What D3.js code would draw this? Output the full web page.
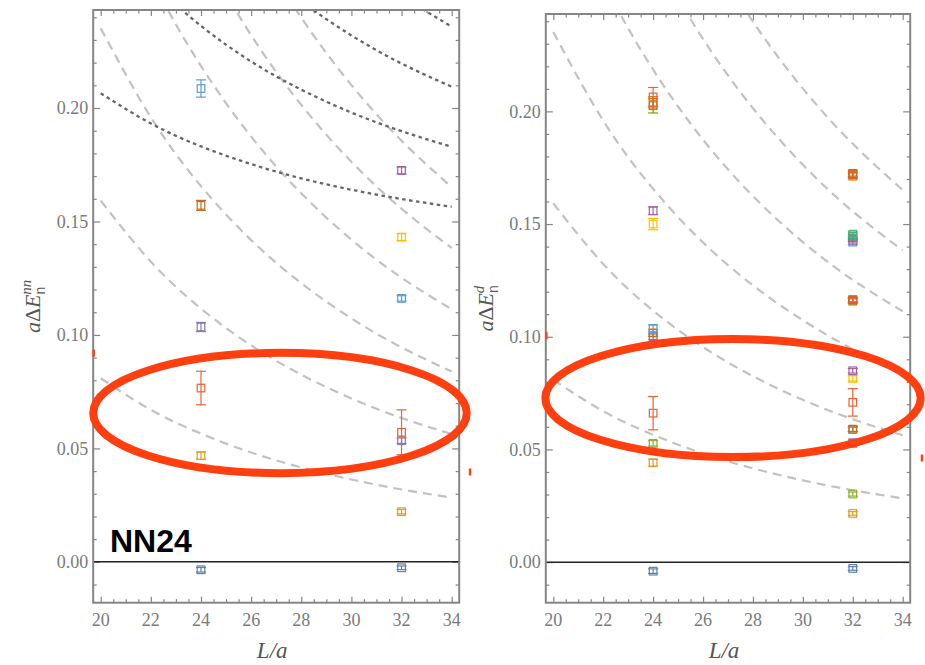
<!DOCTYPE html>
<html>
<head>
<meta charset="utf-8">
<script src="https://cdn.jsdelivr.net/npm/d3@7"></script>
<style>
body { margin: 0; background: #fff; }
svg { display: block; }
</style>
</head>
<body>
<svg id="chart" width="925" height="665"></svg>
<script>
// sample points (L/a) used for the reference curves
const curveL = [20, 22, 24, 26, 28, 30, 32, 34];

// non-interacting levels (dashed)
const freeLevel1 = [0.0809, 0.0670, 0.0565, 0.0482, 0.0416, 0.0363, 0.0319, 0.0283];
const freeLevel2 = [0.1592, 0.1323, 0.1116, 0.0954, 0.0825, 0.0720, 0.0634, 0.0563];
const freeLevel3 = [0.2352, 0.1959, 0.1656, 0.1418, 0.1228, 0.1073, 0.0945, 0.0839];
const freeLevel4 = [0.3091, 0.2580, 0.2185, 0.1874, 0.1624, 0.1420, 0.1252, 0.1113];
const freeLevel5 = [0.3810, 0.3187, 0.2704, 0.2321, 0.2014, 0.1763, 0.1556, 0.1383];
const freeLevel6 = [0.4511, 0.3781, 0.3212, 0.2761, 0.2398, 0.2101, 0.1856, 0.1651];

// dotted levels, only in the nn panel
const dottedLevel1 = [0.2065, 0.1932, 0.1831, 0.1753, 0.1690, 0.1640, 0.1599, 0.1565];
const dottedLevel2 = [0.2830, 0.2564, 0.2362, 0.2205, 0.2081, 0.1980, 0.1898, 0.1829];
const dottedLevel3 = [0.3595, 0.3197, 0.2894, 0.2658, 0.2471, 0.2320, 0.2196, 0.2094];
const dottedLevel4 = [0.4360, 0.3829, 0.3425, 0.3111, 0.2861, 0.2660, 0.2495, 0.2359];

const freeLevels = [freeLevel1, freeLevel2, freeLevel3, freeLevel4, freeLevel5, freeLevel6];
const dottedLevels = [dottedLevel1, dottedLevel2, dottedLevel3, dottedLevel4];

// nn panel points
const nnL     = [24, 24, 24, 24, 24, 24, 32, 32, 32, 32, 32, 32, 32];
const nnE     = [-0.0035, 0.0468, 0.0766, 0.1035, 0.1571, 0.2086, -0.0026, 0.0221, 0.0534, 0.0571, 0.1161, 0.1431, 0.1725];
const nnErr   = [0.0010, 0.0016, 0.0074, 0.0020, 0.0022, 0.0038, 0.0008, 0.0010, 0.0012, 0.0099, 0.0012, 0.0015, 0.0015];
const nnColor = ["#5E81B5", "#E19C24", "#EB6235", "#8778B3", "#C56E1A", "#5D9EC7",
                 "#5E81B5", "#E19C24", "#8778B3", "#EB6235", "#5D9EC7", "#FFBF00", "#A5609D"];

// d panel points
const dL     = [24, 24, 24, 24, 24, 24, 24, 24, 24, 24, 24, 24,
                32, 32, 32, 32, 32, 32, 32, 32, 32, 32, 32, 32, 32, 32, 32, 32, 32, 32, 32, 32];
const dE     = [-0.0040, 0.0441, 0.0527, 0.0661, 0.1000, 0.1017, 0.1037, 0.1500, 0.1559, 0.2025, 0.2040, 0.2064,
                -0.0028, 0.0216, 0.0302, 0.0527, 0.0530, 0.0589, 0.0590, 0.0709, 0.0815, 0.0849,
                0.1158, 0.1162, 0.1165, 0.1420, 0.1433, 0.1445, 0.1455, 0.1712, 0.1718, 0.1725];
const dErr   = [0.0010, 0.0015, 0.0012, 0.0074, 0.0012, 0.0015, 0.0015, 0.0025, 0.0017, 0.0032, 0.0025, 0.0042,
                0.0008, 0.0008, 0.0009, 0.0008, 0.0008, 0.0010, 0.0010, 0.0061, 0.0012, 0.0010,
                0.0010, 0.0010, 0.0010, 0.0010, 0.0010, 0.0010, 0.0010, 0.0012, 0.0012, 0.0012];
const dColor = ["#5E81B5", "#E19C24", "#8FB032", "#EB6235", "#8778B3", "#C56E1A", "#5D9EC7", "#FFBF00", "#A5609D", "#929600", "#C56E1A", "#EB6235",
                "#5E81B5", "#E19C24", "#8FB032", "#6685D9", "#8778B3", "#5D9EC7", "#C56E1A", "#EB6235", "#FFBF00", "#A5609D",
                "#929600", "#C56E1A", "#E95536", "#6685D9", "#E95536", "#5E81B5", "#47B66D", "#F89F13", "#E95536", "#C56E1A"];

// axes
const xMajor = [20, 22, 24, 26, 28, 30, 32, 34];
const yMajor = [0.00, 0.05, 0.10, 0.15, 0.20];

const svg = d3.select("#chart");
const serif = "'Liberation Serif', 'Times New Roman', serif";
const frameColor = "#858585";
const labelColor = "#7a7a7a";
const red = "#ff3f0f";

//draws one panel: frame, ticks, curves, points and annotations
const drawPanel = p => {

    const x = d3.scaleLinear().domain([19.7, 34.3]).range([p.left, p.right]);
    const y = d3.scaleLinear().domain([-0.018, 0.2432]).range([p.bottom, p.top]);

    const g = svg.append("g");

    const xMinor = d3.range(19.5, 34.51, 0.5).filter(v => v >= 19.7 && v <= 34.3 && !xMajor.includes(v));
    const yMinor = d3.range(-0.01, 0.2401, 0.01).map(v => +v.toFixed(2)).filter(v => !yMajor.includes(v));

    const clipId = "clip-" + p.id;
    svg.append("clipPath").attr("id", clipId)
        .append("rect")
        .attr("x", p.left).attr("y", p.top)
        .attr("width", p.right - p.left).attr("height", p.bottom - p.top);

    // ticks (all inward, mirrored on every side)
    const tickGroup = (axis, transform) => g.append("g")
        .attr("transform", transform)
        .call(axis)
        .call(a => a.select(".domain").remove())
        .call(a => a.selectAll("line").attr("stroke", frameColor).attr("stroke-width", 1.2))
        .call(a => a.selectAll("text").remove());

    tickGroup(d3.axisBottom(x).tickValues(xMajor).tickSize(-6), `translate(0,${p.bottom})`);
    tickGroup(d3.axisBottom(x).tickValues(xMinor).tickSize(-3.5), `translate(0,${p.bottom})`);
    tickGroup(d3.axisTop(x).tickValues(xMajor).tickSize(-6), `translate(0,${p.top})`);
    tickGroup(d3.axisTop(x).tickValues(xMinor).tickSize(-3.5), `translate(0,${p.top})`);
    tickGroup(d3.axisLeft(y).tickValues(yMajor).tickSize(-7), `translate(${p.left},0)`);
    tickGroup(d3.axisLeft(y).tickValues(yMinor).tickSize(-3.5), `translate(${p.left},0)`);
    tickGroup(d3.axisRight(y).tickValues(yMajor).tickSize(-7), `translate(${p.right},0)`);
    tickGroup(d3.axisRight(y).tickValues(yMinor).tickSize(-3.5), `translate(${p.right},0)`);

    // tick labels
    g.append("g")
        .selectAll("text")
        .data(xMajor)
        .join("text")
        .attr("x", d => x(d))
        .attr("y", p.bottom + 23)
        .attr("text-anchor", "middle")
        .attr("font-family", serif)
        .attr("font-size", 18)
        .attr("fill", labelColor)
        .text(d => d);

    g.append("g")
        .selectAll("text")
        .data(yMajor)
        .join("text")
        .attr("x", p.left - 5)
        .attr("y", d => y(d))
        .attr("dy", "0.35em")
        .attr("text-anchor", "end")
        .attr("font-family", serif)
        .attr("font-size", 18)
        .attr("fill", labelColor)
        .text(d => d3.format(".2f")(d));

    // reference curves
    const line = d3.line()
        .x((d, i) => x(curveL[i]))
        .y(d => y(d))
        .curve(d3.curveNatural);

    const curves = g.append("g").attr("clip-path", `url(#${clipId})`);

    curves.selectAll("path.free")
        .data(freeLevels)
        .join("path")
        .attr("class", "free")
        .attr("d", line)
        .attr("fill", "none")
        .attr("stroke", "#c2c2c2")
        .attr("stroke-width", 2.2)
        .attr("stroke-dasharray", "9,6");

    if (p.dotted) {
        curves.selectAll("path.dotted")
            .data(dottedLevels)
            .join("path")
            .attr("class", "dotted")
            .attr("d", line)
            .attr("fill", "none")
            .attr("stroke", "#666")
            .attr("stroke-width", 2.3)
            .attr("stroke-dasharray", "3.5,3.5");
    }

    // zero line
    g.append("line")
        .attr("x1", p.left).attr("x2", p.right)
        .attr("y1", y(0)).attr("y2", y(0))
        .attr("stroke", "#222")
        .attr("stroke-width", 1.5);

    // frame
    g.append("rect")
        .attr("x", p.left).attr("y", p.top)
        .attr("width", p.right - p.left).attr("height", p.bottom - p.top)
        .attr("fill", "none")
        .attr("stroke", frameColor)
        .attr("stroke-width", 2);

    // points with error bars
    const points = p.L.map((L, i) => ({L: L, E: p.E[i], err: p.err[i], color: p.color[i]}));

    const pt = g.append("g")
        .selectAll("g")
        .data(points)
        .join("g")
        .attr("stroke", d => d.color)
        .attr("stroke-width", 1.2)
        .attr("fill", "none");

    pt.append("line")
        .attr("x1", d => x(d.L)).attr("x2", d => x(d.L))
        .attr("y1", d => y(d.E - d.err)).attr("y2", d => y(d.E + d.err));

    pt.append("line")
        .attr("x1", d => x(d.L) - 5).attr("x2", d => x(d.L) + 5)
        .attr("y1", d => y(d.E - d.err)).attr("y2", d => y(d.E - d.err));

    pt.append("line")
        .attr("x1", d => x(d.L) - 5).attr("x2", d => x(d.L) + 5)
        .attr("y1", d => y(d.E + d.err)).attr("y2", d => y(d.E + d.err));

    pt.append("rect")
        .attr("x", d => x(d.L) - 3.8).attr("y", d => y(d.E) - 3.8)
        .attr("width", 7.6).attr("height", 7.6);

    // axis titles
    g.append("text")
        .attr("x", (p.left + p.right) / 2 - 4)
        .attr("y", 658)
        .attr("text-anchor", "middle")
        .attr("font-family", serif)
        .attr("font-size", 23)
        .attr("font-style", "italic")
        .attr("fill", "#555")
        .text("L/a");

    const yt = g.append("text")
        .attr("transform", `translate(${p.left - 53},${(p.top + p.bottom) / 2}) rotate(-90)`)
        .attr("text-anchor", "middle")
        .attr("font-family", serif)
        .attr("font-size", 22)
        .attr("fill", "#555");
    yt.append("tspan").attr("font-style", "italic").text("a");
    yt.append("tspan").text("Δ");
    yt.append("tspan").attr("font-style", "italic").text("E");
    yt.append("tspan")
        .attr("font-family", "'Liberation Sans', Arial, sans-serif")
        .attr("font-size", 14)
        .attr("dy", 5)
        .text("n");
    yt.append("tspan")
        .attr("font-style", "italic")
        .attr("font-size", 15)
        .attr("dx", -8)
        .attr("dy", -14)
        .text(p.sup);

    if (p.tag) {
        g.append("text")
            .attr("x", x(20.37))
            .attr("y", y(0.0042))
            .attr("font-family", "'Liberation Sans', Arial, sans-serif")
            .attr("font-weight", "bold")
            .attr("font-size", 32)
            .attr("fill", "#000")
            .text(p.tag);
    }

    // hand-drawn highlight
    g.append("ellipse")
        .attr("cx", x(p.ring.L))
        .attr("cy", y(p.ring.E))
        .attr("rx", x(p.ring.L + p.ring.dL) - x(p.ring.L))
        .attr("ry", y(p.ring.E) - y(p.ring.E + p.ring.dE))
        .attr("fill", "none")
        .attr("stroke", red)
        .attr("stroke-width", 8);

    // stray red marks
    g.selectAll("rect.mark")
        .data(p.marks)
        .join("rect")
        .attr("class", "mark")
        .attr("x", d => x(d[0]) - 1.2)
        .attr("y", d => y(d[1]) - 3.5)
        .attr("width", 2.4)
        .attr("height", 7)
        .attr("fill", red);
}

drawPanel({
    id: "nn", left: 93.2, right: 459.2, top: 10, bottom: 602.7,
    L: nnL, E: nnE, err: nnErr, color: nnColor,
    dotted: true, sup: "nn", tag: "NN24",
    ring: {L: 27.15, E: 0.0656, dL: 7.45, dE: 0.0265},
    marks: [[19.72, 0.092], [34.73, 0.0396]]
});

drawPanel({
    id: "d", left: 545.8, right: 910.2, top: 14, bottom: 602.7,
    L: dL, E: dE, err: dErr, color: dColor,
    dotted: false, sup: "d", tag: null,
    ring: {L: 27.2, E: 0.0728, dL: 7.52, dE: 0.0262},
    marks: [[19.72, 0.1005], [34.77, 0.0462]]
});
</script>
</body>
</html>
